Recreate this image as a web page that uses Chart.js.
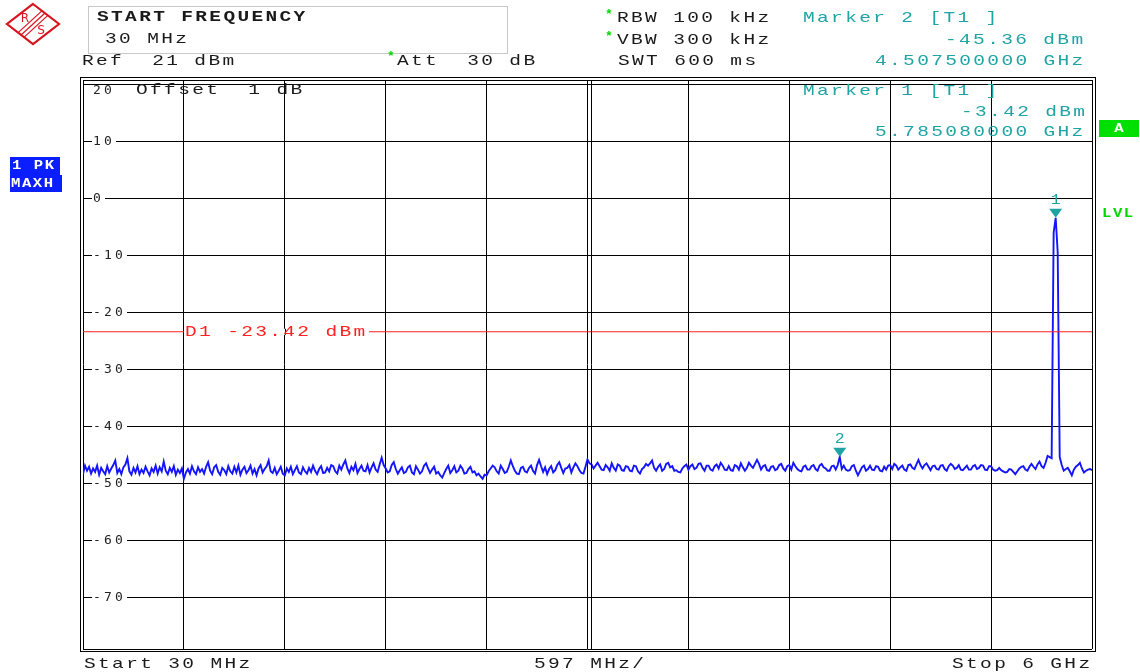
<!DOCTYPE html>
<html>
<head>
<meta charset="utf-8">
<script src="https://cdn.jsdelivr.net/npm/chart.js@4.4.1/dist/chart.umd.min.js"></script>
<style>
  html, body { margin: 0; padding: 0; background: #fff; }
  canvas { display: block; }
</style>
</head>
<body>
<canvas id="spectrum" width="1140" height="672"></canvas>
<script>
// sweep settings (the trace has 501 points from start to stop)
const SWEEP_START_MHZ = 30;
const SWEEP_STOP_MHZ = 6000;

// trace 1, max hold, dBm
const traceLevelDbm = [
  -48.4, -46.9, -47.8, -47.1, -48.3, -47.4, -48.0, -46.9, -48.5, -47.3,
  -47.9, -48.4, -47.0, -48.1, -47.4, -46.8, -46.0, -48.2, -47.5, -48.4,
  -47.2, -46.7, -45.6, -47.9, -48.5, -47.3, -48.1, -47.0, -48.4, -47.6,
  -48.2, -47.1, -47.9, -48.6, -47.4, -48.0, -46.9, -48.3, -47.2, -47.9,
  -46.2, -47.8, -48.4, -47.3, -48.0, -47.0, -48.5, -47.6, -48.2, -47.4,
  -49.2, -48.1, -47.5, -48.3, -47.0, -47.9, -48.4, -47.2, -48.0, -47.5,
  -48.3, -47.1, -46.3, -47.8, -48.4, -47.2, -46.8, -48.0, -48.5, -47.3,
  -47.7, -48.4, -47.0, -47.9, -48.3, -47.1, -48.1, -46.9, -48.5, -47.6,
  -47.1, -48.2, -47.7, -46.9, -48.3, -47.5, -48.6, -47.4, -46.8, -48.1,
  -47.5, -47.0, -46.0, -47.9, -48.2, -47.3, -48.4, -47.8, -47.1, -48.3,
  -48.6, -47.4, -48.0, -47.1, -48.4, -47.7, -47.0, -48.1, -48.4, -47.2,
  -47.9, -48.3, -47.3, -48.0, -46.9, -47.8, -48.4, -47.5, -47.0, -48.2,
  -48.1, -47.3, -47.9, -46.8, -47.0, -47.9, -48.3, -46.9, -47.6, -46.7,
  -46.0, -47.4, -48.2, -47.1, -47.7, -46.6, -48.2, -47.5, -46.9, -47.8,
  -47.9, -46.8, -48.1, -47.2, -46.5, -47.6, -48.0, -46.7, -45.5, -46.8,
  -47.4, -48.1, -47.9, -46.8, -46.3, -47.5, -48.3, -47.7, -47.2, -48.2,
  -48.0, -47.2, -46.9, -48.1, -48.4, -47.0, -47.6, -48.3, -47.9, -46.9,
  -46.5, -47.4, -48.2, -47.6, -47.1, -48.3, -48.0, -48.6, -49.0, -48.2,
  -47.5, -46.9, -48.2, -47.7, -47.0, -48.1, -47.8, -46.9, -47.4, -48.3,
  -48.2, -47.5, -47.1, -48.1, -47.9, -48.6, -48.3, -48.8, -49.2, -48.5,
  -48.6, -47.9, -47.4, -46.9, -47.2, -47.9, -48.3, -46.9, -47.5, -48.2,
  -48.0, -47.1, -46.0, -47.0, -47.8, -48.3, -48.4, -47.3, -47.1, -47.9,
  -48.1, -47.3, -46.9, -47.8, -48.3, -46.8, -45.9, -47.0, -48.0, -47.2,
  -48.4, -47.5, -47.0, -48.1, -47.7, -46.8, -46.3, -47.3, -48.2, -47.4,
  -47.3, -46.8, -48.1, -47.2, -46.5, -47.0, -47.7, -48.2, -48.3, -47.1,
  -45.8, -46.5, -46.7, -47.4, -46.9, -46.4, -47.0, -47.6, -47.7, -46.8,
  -47.2, -47.8, -46.5, -47.3, -47.8, -46.7, -46.9, -47.7, -47.8, -47.0,
  -47.1, -47.8, -47.9, -46.9, -47.0, -47.9, -48.3, -47.5, -47.2, -46.6,
  -46.9, -46.5, -46.0, -47.3, -47.8, -47.1, -46.7, -47.8, -47.5, -46.6,
  -46.4, -47.2, -47.0, -47.8, -47.7, -48.0, -48.1, -47.4, -47.0, -46.7,
  -47.6, -47.0, -46.7, -47.5, -47.3, -46.6, -46.5, -47.3, -47.8, -46.9,
  -46.9, -47.6, -47.8, -47.0, -46.7, -47.4, -46.4, -46.9, -47.6, -47.7,
  -47.0, -47.7, -47.8, -46.8, -47.0, -47.6, -46.5, -47.2, -47.8, -47.3,
  -46.4, -46.9, -47.3, -46.6, -45.9, -46.6, -47.6, -47.0, -46.8, -47.7,
  -47.8, -47.1, -47.0, -47.7, -47.5, -46.8, -46.6, -47.4, -47.8, -47.0,
  -46.8, -47.6, -46.4, -47.0, -47.5, -47.8, -47.9, -47.1, -46.9, -47.6,
  -47.6, -47.0, -46.8, -47.5, -47.8, -46.9, -46.6, -47.2, -47.4, -47.8,
  -47.8, -47.0, -46.9, -47.6, -46.8, -45.36, -47.5, -46.9, -47.6, -47.8,
  -47.7, -47.0, -46.8, -47.8, -48.6, -47.9, -47.2, -46.9, -47.8, -47.5,
  -46.9, -47.6, -47.7, -47.0, -47.1, -47.8, -47.9, -47.1, -47.6, -46.9,
  -46.8, -47.5, -46.6, -46.9, -47.6, -47.2, -46.9, -47.6, -47.8, -46.8,
  -46.7, -47.3, -47.5, -46.7, -45.9, -46.8, -47.4, -46.8, -46.5, -47.1,
  -47.7, -47.0, -46.9, -47.5, -47.6, -46.9, -46.8, -47.5, -47.8, -47.0,
  -46.6, -46.9, -47.5, -47.3, -46.8, -47.6, -47.7, -47.3, -46.9, -47.6,
  -47.6, -47.0, -46.8, -47.5, -47.3, -46.8, -46.9, -47.6, -47.7, -47.0,
  -47.0, -47.6, -47.8, -47.7, -47.3, -47.7, -47.9, -48.1, -48.0, -47.5,
  -47.6, -48.0, -48.4, -47.9, -47.4, -47.1, -47.0, -47.6, -47.8, -47.1,
  -46.6, -47.1, -47.5, -46.7, -46.2, -47.0, -47.3, -46.4, -45.2, -45.4,
  -45.6, -6.0, -3.42, -9.5, -45.4, -46.8, -47.8, -47.5, -47.3, -47.9,
  -48.6, -47.6, -47.1, -46.8, -46.4, -47.4, -48.1, -47.8, -47.6, -47.5,
  -47.7
];

// grid (597 MHz / div, 10 dB / div)
const gridFreqMHz = [30, 627, 1224, 1821, 2418, 3015, 3612, 4209, 4806, 5403, 6000];
const gridLevelDbm = [20, 10, 0, -10, -20, -30, -40, -50, -60, -70];
const levelTickLabels = ['20', '10', '0', '-10', '-20', '-30', '-40', '-50', '-60', '-70'];

// markers
const markerNames = ['1', '2'];
const markerFreqMHz = [5785.08, 4507.5];
const markerLevelDbm = [-3.42, -45.36];

// display line D1
const displayLineDbm = -23.42;

const MONO = '"Liberation Mono", "DejaVu Sans Mono", monospace';
const SANSMONO = '"DejaVu Sans Mono", monospace';
const TEAL = '#1fa3a3';
const GREEN = '#00d800';

// text helper: monospace, stretched a little wider like the analyzer font
function put(ctx, s, x, y, o) {
  o = o || {};
  const sx = o.sx === undefined ? 1.3 : o.sx;
  ctx.save();
  ctx.font = (o.bold ? 'bold ' : '') + (o.size || 15) + 'px ' + (o.family || MONO);
  ctx.fillStyle = o.color || '#1a1a1a';
  ctx.letterSpacing = (o.sp === undefined ? 1.8 : o.sp) + 'px';
  ctx.textAlign = o.align || 'left';
  ctx.textBaseline = 'middle';
  ctx.translate(x, y);
  ctx.scale(sx, 1);
  ctx.fillText(s, 0, 0);
  ctx.restore();
}

function hline(ctx, x1, x2, y) {
  ctx.beginPath(); ctx.moveTo(x1, Math.round(y) + 0.5); ctx.lineTo(x2, Math.round(y) + 0.5); ctx.stroke();
}
function vline(ctx, x, y1, y2) {
  ctx.beginPath(); ctx.moveTo(Math.round(x) + 0.5, y1); ctx.lineTo(Math.round(x) + 0.5, y2); ctx.stroke();
}

function fmtGHz(mhz) { return (mhz / 1000).toFixed(9) + ' GHz'; }
function fmtDbm(v) { return v.toFixed(2) + ' dBm'; }

const analyzerPlugin = {
  id: 'analyzer',
  beforeDatasetsDraw(chart) {
    const ctx = chart.ctx, y = chart.scales.y, a = chart.chartArea;
    ctx.save();
    // level labels sitting on the grid lines
    gridLevelDbm.forEach((v, i) => {
      let py = y.getPixelForValue(v);
      if (i === 0) py += 6;
      const w = levelTickLabels[i].length * 11;
      ctx.fillStyle = '#fff';
      ctx.fillRect(a.left + 9, py - 5, w + 2, 11);
      put(ctx, levelTickLabels[i], a.left + 10, py + 0.5, { family: SANSMONO, size: 13, sp: 3.2, sx: 1, color: '#222' });
    });
    put(ctx, 'Offset  1 dB', 136, y.getPixelForValue(20) + 6, {});
    ctx.restore();
  },
  afterDatasetsDraw(chart) {
    const ctx = chart.ctx, x = chart.scales.x, y = chart.scales.y, a = chart.chartArea;
    ctx.save();
    // D1 label breaks the red line only
    const dy = y.getPixelForValue(displayLineDbm);
    ctx.fillStyle = '#fff';
    ctx.fillRect(184, dy - 3, 185, 6);
    ctx.strokeStyle = '#000'; ctx.lineWidth = 1;
    gridFreqMHz.forEach(f => {
      const px = x.getPixelForValue(f);
      if (px > 184 && px < 369) vline(ctx, px, dy - 3, dy + 3);
    });
    put(ctx, 'D1 ' + fmtDbm(displayLineDbm), 185, dy + 0.5, { color: '#ff2020' });

    // marker triangles
    markerNames.forEach((n, i) => {
      const px = x.getPixelForValue(markerFreqMHz[i]);
      const py = y.getPixelForValue(markerLevelDbm[i]);
      ctx.fillStyle = TEAL;
      ctx.beginPath();
      ctx.moveTo(px, py);
      ctx.lineTo(px - 6.5, py - 9);
      ctx.lineTo(px + 6.5, py - 9);
      ctx.closePath();
      ctx.fill();
      put(ctx, n, px, py - 18, { color: TEAL, align: 'center', sp: 0, size: 15, sx: 1.1 });
    });

    // marker 1 readout inside the diagram
    put(ctx, 'Marker ' + markerNames[0] + ' [T1 ]', 803, 91, { color: TEAL });
    put(ctx, fmtDbm(markerLevelDbm[0]), 961, 112, { color: TEAL });
    put(ctx, fmtGHz(markerFreqMHz[0]), 875, 132, { color: TEAL });

    // double frame
    ctx.strokeStyle = '#000'; ctx.lineWidth = 1;
    hline(ctx, a.left - 3, a.right + 4, a.top - 3);
    hline(ctx, a.left, a.right, a.top);
    hline(ctx, a.left - 3, a.right + 4, a.bottom + 2);
    hline(ctx, a.left, a.right, a.bottom);
    vline(ctx, a.left - 3, a.top - 3, a.bottom + 2);
    vline(ctx, a.right + 3, a.top - 3, a.bottom + 2);
    vline(ctx, x.getPixelForValue(gridFreqMHz[5]) + 3, a.top, a.bottom);
    ctx.restore();
  },
  afterDraw(chart) {
    const ctx = chart.ctx;
    ctx.save();
    // R&S logo
    ctx.strokeStyle = '#d8141e'; ctx.lineWidth = 2.2;
    ctx.beginPath();
    ctx.moveTo(33, 4); ctx.lineTo(59, 24); ctx.lineTo(33, 44); ctx.lineTo(7, 24); ctx.closePath();
    ctx.stroke();
    ctx.lineWidth = 1.2;
    [-2.6, 0, 2.6].forEach(o => {
      ctx.beginPath(); ctx.moveTo(21 + o, 35 + o); ctx.lineTo(45 + o, 13 + o); ctx.stroke();
    });
    put(ctx, 'R', 25, 19, { color: '#d8141e', size: 12, sp: 0, sx: 1, align: 'center', family: '"DejaVu Sans", sans-serif' });
    put(ctx, 'S', 41, 31, { color: '#d8141e', size: 12, sp: 0, sx: 1, align: 'center', family: '"DejaVu Sans", sans-serif' });

    // softkey box
    ctx.strokeStyle = '#c8c8c8'; ctx.lineWidth = 1;
    ctx.strokeRect(88.5, 6.5, 419, 47);
    put(ctx, 'START FREQUENCY', 97, 17, { bold: true });
    put(ctx, '30 MHz', 105, 39);

    // settings
    put(ctx, 'Ref  21 dBm', 82, 61);
    put(ctx, '*', 387, 57, { color: GREEN, bold: true, size: 13, sp: 0, sx: 1 });
    put(ctx, 'Att  30 dB', 397, 61);
    put(ctx, '*', 605, 15, { color: GREEN, bold: true, size: 13, sp: 0, sx: 1 });
    put(ctx, 'RBW 100 kHz', 617, 18);
    put(ctx, '*', 605, 37, { color: GREEN, bold: true, size: 13, sp: 0, sx: 1 });
    put(ctx, 'VBW 300 kHz', 617, 40);
    put(ctx, 'SWT 600 ms', 618, 61);

    // marker 2 readout
    put(ctx, 'Marker ' + markerNames[1] + ' [T1 ]', 803, 18, { color: TEAL });
    put(ctx, fmtDbm(markerLevelDbm[1]), 945, 40, { color: TEAL });
    put(ctx, fmtGHz(markerFreqMHz[1]), 875, 61, { color: TEAL });

    // side indicators
    ctx.fillStyle = '#00e000';
    ctx.fillRect(1099, 120, 40, 17);
    put(ctx, 'A', 1119, 128.5, { bold: true, color: '#fff', size: 13, sp: 0, sx: 1.2, align: 'center' });
    put(ctx, 'LVL', 1102, 214, { bold: true, color: GREEN, size: 12, sp: 1.2, sx: 1.3 });

    ctx.fillStyle = '#0a1eff';
    ctx.fillRect(10, 157, 50, 18);
    ctx.fillRect(10, 175, 52, 17);
    put(ctx, '1 PK', 12, 166, { bold: true, color: '#fff', size: 12, sp: 1.2, sx: 1.3 });
    put(ctx, 'MAXH', 11, 183.5, { bold: true, color: '#fff', size: 12, sp: 1.2, sx: 1.3 });

    // frequency axis annotation
    put(ctx, 'Start 30 MHz', 84, 664);
    put(ctx, '597 MHz/', 534, 664);
    put(ctx, 'Stop 6 GHz', 952, 664);
    ctx.restore();
  }
};

const step = (SWEEP_STOP_MHZ - SWEEP_START_MHZ) / (traceLevelDbm.length - 1);
const tracePoints = traceLevelDbm.map((v, i) => ({ x: SWEEP_START_MHZ + i * step, y: v }));

const ctx = document.getElementById('spectrum').getContext('2d');
const myChart = new Chart(ctx, {
  type: 'line',
  data: {
    datasets: [
      {
        data: [{ x: SWEEP_START_MHZ, y: displayLineDbm }, { x: SWEEP_STOP_MHZ, y: displayLineDbm }],
        borderColor: '#ff2020',
        borderWidth: 1,
        pointRadius: 0
      },
      {
        data: tracePoints,
        borderColor: '#1414ff',
        borderWidth: 1.9,
        pointRadius: 0,
        tension: 0
      }
    ]
  },
  options: {
    responsive: false,
    animation: false,
    events: [],
    layout: { padding: { left: 83, right: 48, top: 80, bottom: 23 } },
    plugins: {
      legend: { display: false },
      tooltip: { enabled: false }
    },
    scales: {
      x: {
        type: 'linear',
        min: SWEEP_START_MHZ,
        max: SWEEP_STOP_MHZ,
        afterBuildTicks: s => { s.ticks = gridFreqMHz.map(v => ({ value: v })); },
        afterFit: s => { s.height = 0; },
        ticks: { display: false },
        grid: { color: '#000', lineWidth: 1, drawTicks: false },
        border: { display: false }
      },
      y: {
        type: 'linear',
        min: -79.07,
        max: 20.75,
        afterBuildTicks: s => { s.ticks = gridLevelDbm.map(v => ({ value: v })); },
        afterFit: s => { s.width = 0; },
        ticks: { display: false },
        grid: { color: '#000', lineWidth: 1, drawTicks: false },
        border: { display: false }
      }
    }
  },
  plugins: [analyzerPlugin]
});
</script>
</body>
</html>
